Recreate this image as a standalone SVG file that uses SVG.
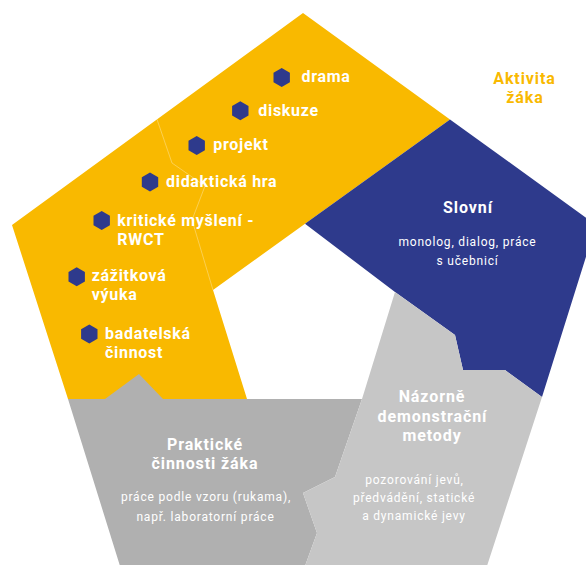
<svg xmlns="http://www.w3.org/2000/svg" width="586" height="565" viewBox="0 0 586 565">
  <style>
    .yellow { fill: #f9b900; }
    .blue { fill: #2e3a8c; }
    .dgrey { fill: #b0b0b0; }
    .lgrey { fill: #c6c6c6; }
    text { font-family: Roboto, "Open Sans", "Liberation Sans", sans-serif; }
    .item { font-size: 16px; font-weight: 700; fill: #ffffff; letter-spacing: 0.7px; }
    .head { font-size: 16px; font-weight: 700; fill: #ffffff; text-anchor: middle; letter-spacing: 0.9px; }
    .desc { font-size: 12px; font-weight: 400; fill: #ffffff; text-anchor: middle; letter-spacing: 0.8px; }
    .accent { font-size: 16px; font-weight: 700; fill: #f9b900; text-anchor: middle; letter-spacing: 0.9px; }
    .seam { fill: none; stroke: #ffffff; stroke-opacity: 0.45; stroke-width: 0.7; }
  </style>
  <defs>
    <path id="hex" d="M0,-9.5 L8.2,-4.75 L8.2,4.75 L0,9.5 L-8.2,4.75 L-8.2,-4.75 Z" fill="#2e3a8c"/>
  </defs>

  <!-- Aktivita žáka: top-left segment with bulleted activities -->
  <g id="aktivita">
    <polygon class="yellow" points="303,13 450,119.4 213,290 247,399 68,399 12,225"/>
    <path class="seam" d="M157,119.4 L172,163 L205,186 L192,220 L213,290"/>
    <use href="#hex" x="281.7" y="77.5"/>
    <text class="item" x="301.5" y="82">drama</text>
    <use href="#hex" x="240.3" y="110.8"/>
    <text class="item" x="258.3" y="116">diskuze</text>
    <use href="#hex" x="196.7" y="145.5"/>
    <text class="item" x="213.3" y="150">projekt</text>
    <use href="#hex" x="150" y="182"/>
    <text class="item" x="166" y="187">didaktická hra</text>
    <use href="#hex" x="101.7" y="220.5"/>
    <text class="item" x="117.3" y="226">kritické myšlení -<tspan x="117.3" dy="19">RWCT</tspan></text>
    <use href="#hex" x="76.7" y="276.7"/>
    <text class="item" x="91.7" y="281">zážitková<tspan x="91.7" dy="19">výuka</tspan></text>
    <use href="#hex" x="89.3" y="334"/>
    <text class="item" x="105" y="338.5">badatelská<tspan x="105" dy="19">činnost</tspan></text>
  </g>

  <!-- Caption outside the pentagon -->
  <g id="aktivita-label">
    <text class="accent" x="524.5" y="83.5">Aktivita<tspan x="525" dy="19.5">žáka</tspan></text>
  </g>

  <!-- Slovní: right segment -->
  <g id="slovni">
    <polygon class="blue" points="450,119.4 596,225 542,397 505,370 463,370 455,335 395,292 305,223.8"/>
    <text class="head" x="468" y="212.5">Slovní</text>
    <text class="desc" x="467.5" y="246">monolog, dialog, práce<tspan x="467.5" dy="19">s učebnicí</tspan></text>
  </g>

  <!-- Praktické činnosti žáka: bottom-left segment -->
  <g id="prakticke">
    <polygon class="dgrey" points="68,399 105,399 139,374 163,399 362,399 335,477 303,493 317,533 305,566 120,566"/>
    <text class="head" x="205" y="449.5">Praktické<tspan x="205" dy="19">činnosti žáka</tspan></text>
    <text class="desc" x="206" y="501">práce podle vzoru (rukama),<tspan x="205.5" dy="19.5">např. laboratorní práce</tspan></text>
  </g>

  <!-- Názorně demonstrační metody: bottom-right segment -->
  <g id="nazorne">
    <polygon class="lgrey" points="395,292 455,335 463,370 505,370 542,397 487,566 305,566 317,533 303,493 335,477 362,399"/>
    <text class="head" x="432" y="402">Názorně<tspan x="432.5" dy="19.5">demonstrační</tspan><tspan x="432" dy="19.5">metody</tspan></text>
    <text class="desc" x="414.5" y="483.5">pozorování jevů,<tspan x="414" dy="18.5">předvádění, statické</tspan><tspan x="414" dy="18">a dynamické jevy</tspan></text>
  </g>
</svg>
